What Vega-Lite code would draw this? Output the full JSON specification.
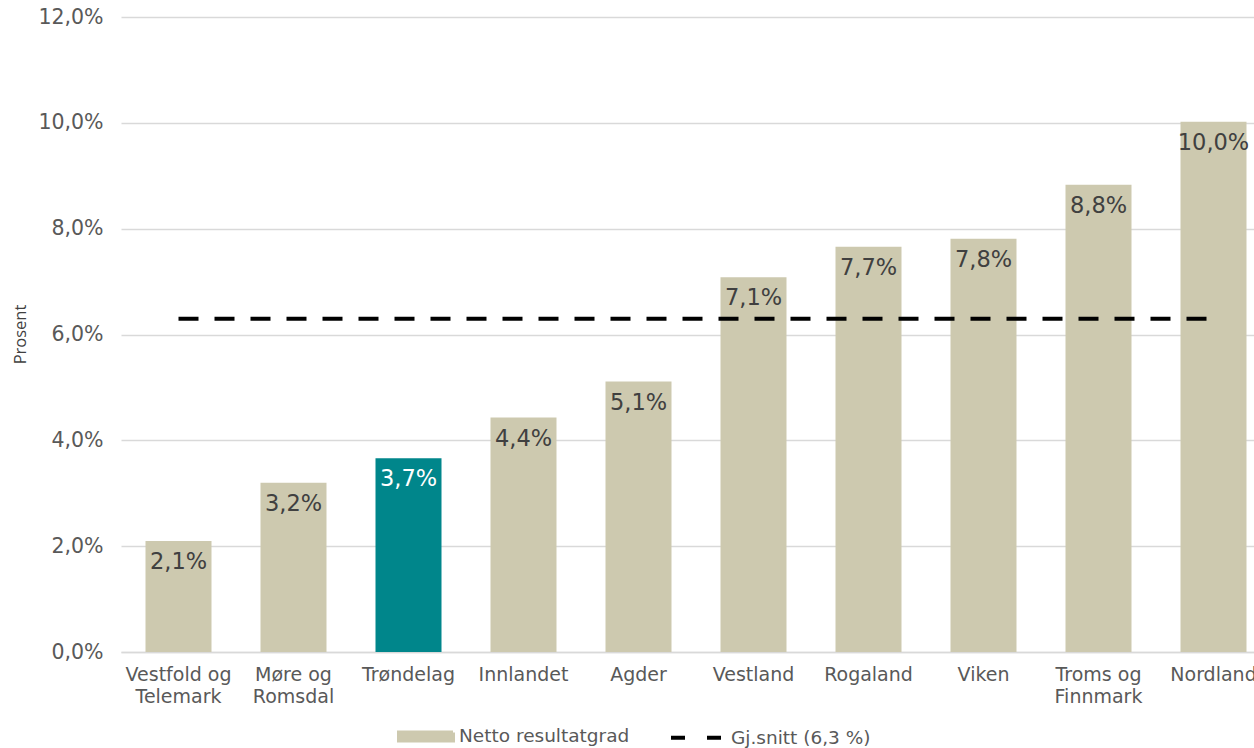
{
  "$schema": "https://vega.github.io/schema/vega-lite/v6.json",
  "autosize": {"type": "none"},
  "width": 1133,
  "height": 635,
  "padding": {"left": 121, "top": 17, "right": 0, "bottom": 96},
  "config": {
    "view": {"stroke": null},
    "locale": {"number": {"decimal": ",", "thousands": " ", "grouping": [3], "currency": ["", " kr"]}},
    "font": "DejaVu Sans"
  },
  "data": {
    "values": [
      {"region": "Vestfold og Telemark", "v": 0.021, "serie": "Netto resultatgrad", "avg": 0.063},
      {"region": "Møre og Romsdal", "v": 0.032, "serie": "Netto resultatgrad", "avg": 0.063},
      {"region": "Trøndelag", "v": 0.0366, "serie": "Trøndelag", "avg": 0.063},
      {"region": "Innlandet", "v": 0.0443, "serie": "Netto resultatgrad", "avg": 0.063},
      {"region": "Agder", "v": 0.0511, "serie": "Netto resultatgrad", "avg": 0.063},
      {"region": "Vestland", "v": 0.0708, "serie": "Netto resultatgrad", "avg": 0.063},
      {"region": "Rogaland", "v": 0.0766, "serie": "Netto resultatgrad", "avg": 0.063},
      {"region": "Viken", "v": 0.0781, "serie": "Netto resultatgrad", "avg": 0.063},
      {"region": "Troms og Finnmark", "v": 0.0883, "serie": "Netto resultatgrad", "avg": 0.063},
      {"region": "Nordland", "v": 0.1002, "serie": "Netto resultatgrad", "avg": 0.063}
    ]
  },
  "encoding": {
    "x": {
      "field": "region",
      "type": "nominal",
      "sort": null,
      "scale": {"range": [0, 1150], "paddingInner": 0.426, "paddingOuter": 0.213},
      "axis": {
        "title": null,
        "labelAngle": 0,
        "labelFont": "DejaVu Sans",
        "labelFontSize": 19,
        "labelColor": "#595959",
        "labelLineHeight": 22,
        "labelPadding": 13,
        "labelBaseline": "top",
        "labelExpr": "split(replace(datum.value, ' og ', ' og|'), '|')",
        "ticks": false,
        "domainColor": "#D9D9D9",
        "domainWidth": 1.5
      }
    }
  },
  "layer": [
    {
      "mark": {"type": "bar"},
      "encoding": {
        "y": {
          "field": "v",
          "type": "quantitative",
          "scale": {"domain": [0, 0.12], "nice": false},
          "axis": {
            "title": "Prosent",
            "titleFont": "Open Sans",
            "titleFontSize": 16.5,
            "titleFontWeight": "normal",
            "titleColor": "#404040",
            "titleX": -101,
            "titleY": 317,
            "titleAngle": -90,
            "titleAlign": "center",
            "titleBaseline": "middle",
            "values": [0, 0.02, 0.04, 0.06, 0.08, 0.1, 0.12],
            "format": ".1%",
            "labelFont": "DejaVu Sans",
            "labelFontSize": 20.5,
            "labelColor": "#595959",
            "labelPadding": 18,
            "ticks": false,
            "domain": false,
            "grid": true,
            "gridColor": "#D9D9D9",
            "gridWidth": 1.5
          }
        },
        "color": {
          "field": "serie",
          "type": "nominal",
          "scale": {
            "domain": ["Netto resultatgrad", "Trøndelag", "Gj.snitt (6,3 %)"],
            "range": ["#CDC9AF", "#00868B", "#000000"]
          },
          "legend": {
            "title": null,
            "orient": "none",
            "legendX": 294,
            "legendY": 708,
            "padding": 0,
            "direction": "horizontal",
            "values": ["Netto resultatgrad", "Gj.snitt (6,3 %)"],
            "labelFont": "DejaVu Sans",
            "labelFontSize": 18.5,
            "labelColor": "#595959",
            "labelLimit": 400,
            "symbolSize": 324,
            "labelOffset": 22,
            "columnPadding": 33,
            "encode": {
              "symbols": {
                "update": {
                  "shape": {"signal": "datum.value === 'Gj.snitt (6,3 %)' ? 'M-3,0H3' : 'M-3,-0.45H3V0.45H-3Z'"},
                  "fill": {"signal": "datum.value === 'Gj.snitt (6,3 %)' ? 'transparent' : '#CDC9AF'"},
                  "stroke": {"signal": "datum.value === 'Gj.snitt (6,3 %)' ? '#000000' : 'transparent'"},
                  "strokeWidth": {"value": 4},
                  "strokeDash": {"signal": "datum.value === 'Gj.snitt (6,3 %)' ? [14, 22] : [1, 0]"},
                  "opacity": {"value": 1}
                }
              }
            }
          }
        }
      }
    },
    {
      "mark": {"type": "text", "baseline": "middle", "dy": 21, "fontSize": 22.5, "font": "DejaVu Sans"},
      "encoding": {
        "y": {"field": "v", "type": "quantitative"},
        "text": {"field": "v", "type": "quantitative", "format": ".1%"},
        "color": {
          "condition": {"test": "datum.region === 'Trøndelag'", "value": "#FFFFFF"},
          "value": "#404040"
        }
      }
    },
    {
      "mark": {"type": "line", "strokeWidth": 4, "strokeDash": [20, 16]},
      "encoding": {
        "y": {"field": "avg", "type": "quantitative"},
        "color": {"datum": "Gj.snitt (6,3 %)"}
      }
    }
  ]
}
